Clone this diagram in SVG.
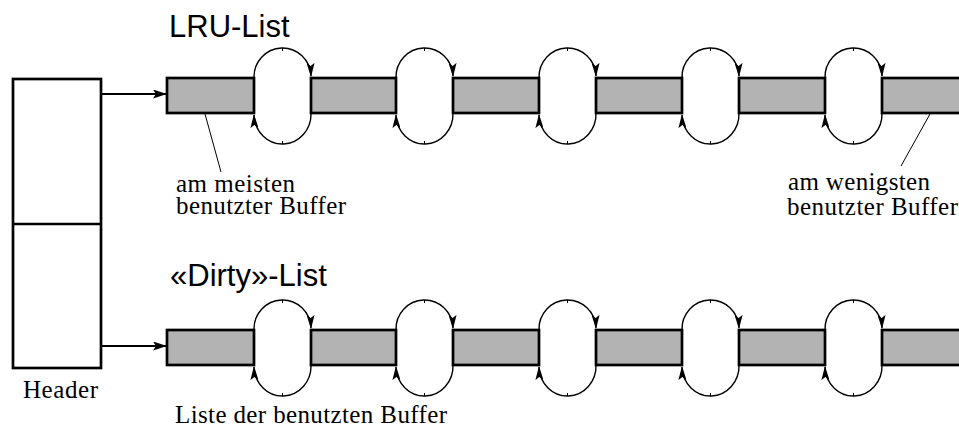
<svg xmlns="http://www.w3.org/2000/svg" width="959" height="428" viewBox="0 0 959 428">
<defs>
<style>
.buf{fill:#b3b3b3;stroke:#000;stroke-width:2.7}
.hdr{fill:#fff;stroke:#000;stroke-width:2.7}
.loop{fill:none;stroke:#000;stroke-width:1.4}
.tick{stroke:#000;stroke-width:1}
.conn{fill:none;stroke:#000;stroke-width:1.8}
.lead{fill:none;stroke:#000;stroke-width:1}
.ttl{font-family:"Liberation Sans",Arial,sans-serif;font-size:31px;fill:#000}
.lbl{font-family:"Liberation Serif","Times New Roman",serif;font-size:25px;fill:#000}
</style>
<marker id="ah" viewBox="0 0 14 9" refX="14" refY="4.5" markerWidth="14" markerHeight="9" markerUnits="userSpaceOnUse" orient="auto">
<path d="M0,0 L14,4.5 L0,9 L3,4.5 Z" fill="#000"/>
</marker>
<marker id="lh" viewBox="0 0 14 8" refX="13" refY="4" markerWidth="14" markerHeight="8" markerUnits="userSpaceOnUse" orient="auto">
<path d="M0,0 L14,4 L0,8 L3,4 Z" fill="#000"/>
</marker>
<g id="row">
<rect class="buf" x="167" y="78" width="87" height="35"/>
<rect class="buf" x="311" y="78" width="85" height="35"/>
<rect class="buf" x="453" y="78" width="86" height="35"/>
<rect class="buf" x="596" y="78" width="86" height="35"/>
<rect class="buf" x="739" y="78" width="86" height="35"/>
<rect class="buf" x="882" y="78" width="90" height="35"/>
<g class="loop">
<path d="M254,78 A28.5 29 0 0 1 311,76" marker-end="url(#lh)"/>
<path d="M311,113 A28.5 30 0 0 1 254,115" marker-end="url(#lh)"/>
<path d="M396,78 A28.5 29 0 0 1 453,76" marker-end="url(#lh)"/>
<path d="M453,113 A28.5 30 0 0 1 396,115" marker-end="url(#lh)"/>
<path d="M539,78 A28.5 29 0 0 1 596,76" marker-end="url(#lh)"/>
<path d="M596,113 A28.5 30 0 0 1 539,115" marker-end="url(#lh)"/>
<path d="M682,78 A28.5 29 0 0 1 739,76" marker-end="url(#lh)"/>
<path d="M739,113 A28.5 30 0 0 1 682,115" marker-end="url(#lh)"/>
<path d="M825,78 A28.5 29 0 0 1 882,76" marker-end="url(#lh)"/>
<path d="M882,113 A28.5 30 0 0 1 825,115" marker-end="url(#lh)"/>
</g>
<g class="tick">
<line x1="282.5" y1="48" x2="282.5" y2="51"/><line x1="282.5" y1="141" x2="282.5" y2="144"/>
<line x1="424.5" y1="48" x2="424.5" y2="51"/><line x1="424.5" y1="141" x2="424.5" y2="144"/>
<line x1="567.5" y1="48" x2="567.5" y2="51"/><line x1="567.5" y1="141" x2="567.5" y2="144"/>
<line x1="710.5" y1="48" x2="710.5" y2="51"/><line x1="710.5" y1="141" x2="710.5" y2="144"/>
<line x1="853.5" y1="48" x2="853.5" y2="51"/><line x1="853.5" y1="141" x2="853.5" y2="144"/>
</g>
</g>
</defs>

<g id="header">
<rect class="hdr" x="13" y="79" width="88" height="289"/>
<line class="hdr" x1="13" y1="224" x2="101" y2="224"/>
<text class="lbl" x="23" y="398" textLength="75" lengthAdjust="spacing">Header</text>
</g>

<g id="lru-list">
<text class="ttl" x="169" y="37">LRU-List</text>
<use href="#row"/>
</g>

<g id="dirty-list">
<text class="ttl" x="170" y="286">«Dirty»-List</text>
<use href="#row" transform="translate(0,252)"/>
</g>

<g id="labels">
<text class="lbl" x="176" y="192" textLength="119" lengthAdjust="spacing">am meisten</text>
<text class="lbl" x="176" y="214" textLength="170" lengthAdjust="spacing">benutzter Buffer</text>
<text class="lbl" x="788" y="190" textLength="142" lengthAdjust="spacing">am wenigsten</text>
<text class="lbl" x="787" y="215" textLength="171" lengthAdjust="spacing">benutzter Buffer</text>
<text class="lbl" x="175" y="423" textLength="272" lengthAdjust="spacing">Liste der benutzten Buffer</text>
</g>

<g id="connectors">
<line class="conn" x1="101" y1="94" x2="167" y2="94" marker-end="url(#ah)"/>
<line class="conn" x1="101" y1="346" x2="167" y2="346" marker-end="url(#ah)"/>
<line class="lead" x1="205" y1="114" x2="221" y2="172"/>
<line class="lead" x1="930" y1="114" x2="901" y2="166"/>
</g>
</svg>
